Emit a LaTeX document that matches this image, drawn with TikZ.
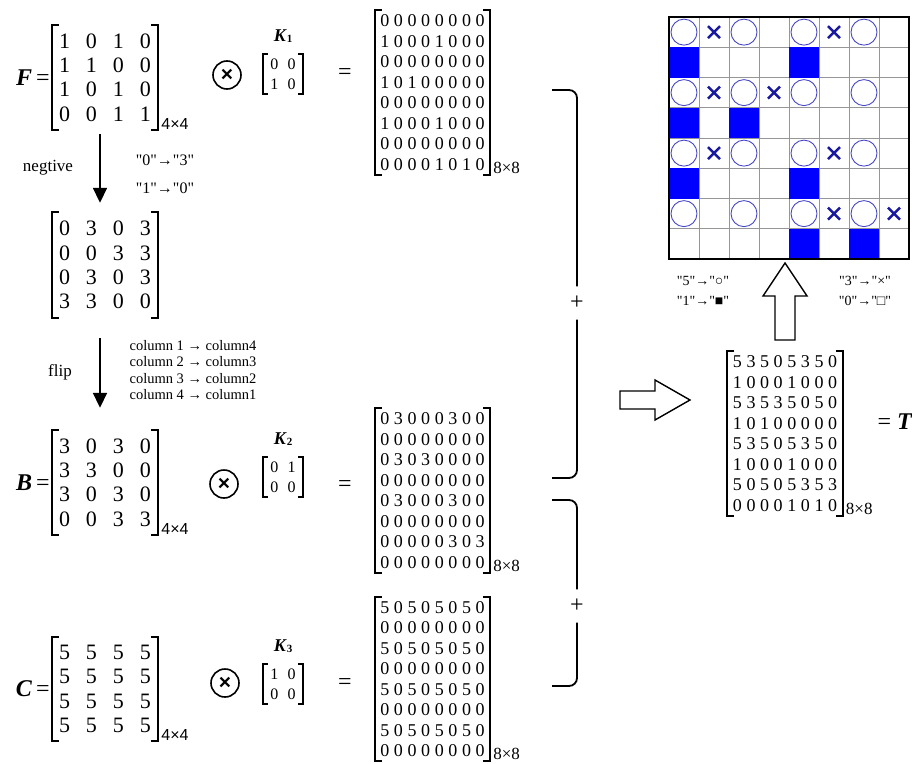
\documentclass[tikz,border=0pt]{standalone}
\usepackage{fontspec}
\setmainfont{Liberation Serif}
\newfontfamily\sansfont{Liberation Sans}
\newfontfamily\plainserif{Liberation Serif}
\usetikzlibrary{arrows.meta}
\definecolor{cellblue}{RGB}{0,0,255}
\definecolor{ringblue}{RGB}{70,70,200}
\definecolor{crossblue}{RGB}{25,25,160}
\definecolor{gridgray}{RGB}{150,150,150}
\tikzset{
  bigmat/.style={align=left, inner sep=0pt, minimum width=106pt, font={\fontsize{22}{24.4}\selectfont\spaceskip 16pt\relax}},
  kmat/.style={align=left, inner sep=0pt, minimum width=40pt, minimum height=39pt, font={\fontsize{16}{20}\selectfont\spaceskip 9.5pt\relax}},
  widemat/.style={align=left, inner sep=0pt, minimum width=115pt, minimum height=164pt, font={\fontsize{18}{20.5}\selectfont\spaceskip 4.6pt\relax}},
  brk/.style={draw=black, line width=1.7pt},
  sizelabel/.style={font=\sansfont\fontsize{16}{16}\selectfont, anchor=south west, inner sep=1pt},
  sizelabelw/.style={font=\fontsize{17}{17}\selectfont, anchor=south west, inner sep=1pt},
  lhs/.style={font=\fontsize{24}{24}\selectfont, anchor=east, inner sep=2pt},
  klabel/.style={font=\fontsize{18}{18}\selectfont, inner sep=0pt},
  otimes/.style={circle, draw=black, line width=1.6pt, minimum size=28pt, inner sep=0pt, font=\sansfont\bfseries\fontsize{21}{21}\selectfont},
  eqsign/.style={font=\fontsize{24}{24}\selectfont},
  note/.style={font=\fontsize{17}{18}\selectfont},
  rulenote/.style={font=\plainserif\fontsize{16}{18}\selectfont},
  stepnote/.style={font=\fontsize{14.5}{16.5}\selectfont, align=left},
  downarr/.style={line width=1.8pt, -{Triangle[width=14pt,length=15pt]}},
  brace/.style={line width=1.8pt, rounded corners=8pt},
  plus/.style={font=\fontsize{24}{24}\selectfont, minimum height=33pt, inner sep=0pt},
  hollow/.style={draw=black, line width=1.4pt, fill=white, line join=miter},
  gridline/.style={draw=gridgray, line width=0.8pt},
  ring/.style={draw=ringblue, line width=0.9pt},
  cross/.style={draw=crossblue, line width=2.6pt},
  legend/.style={font=\plainserif\fontsize{14}{14}\selectfont},
}
\begin{document}
\begin{tikzpicture}[x=1pt, y=-1pt]
\useasboundingbox (0,0) rectangle (912,763);
% left column: F, negative, B, C
\node[bigmat, minimum height=105pt] (F) at (105,77.5) {1 0 1 0\\1 1 0 0\\1 0 1 0\\0 0 1 1};
\node[bigmat, minimum height=106pt] (N) at (105,265) {0 3 0 3\\0 0 3 3\\0 3 0 3\\3 3 0 0};
\node[bigmat, minimum height=105pt] (B) at (105,482.5) {3 0 3 0\\3 3 0 0\\3 0 3 0\\0 0 3 3};
\node[bigmat, minimum height=104pt] (C) at (105,689) {5 5 5 5\\5 5 5 5\\5 5 5 5\\5 5 5 5};
\draw[brk] ([xshift=7pt]F.north west) -| (F.south west) -- ++(7,0) ([xshift=-7pt]F.north east) -| (F.south east) -- ++(-7,0);
\draw[brk] ([xshift=7pt]N.north west) -| (N.south west) -- ++(7,0) ([xshift=-7pt]N.north east) -| (N.south east) -- ++(-7,0);
\draw[brk] ([xshift=7pt]B.north west) -| (B.south west) -- ++(7,0) ([xshift=-7pt]B.north east) -| (B.south east) -- ++(-7,0);
\draw[brk] ([xshift=7pt]C.north west) -| (C.south west) -- ++(7,0) ([xshift=-7pt]C.north east) -| (C.south east) -- ++(-7,0);
\node[lhs] (Flhs) at (F.west) {\textbf{\textit{F}}\,=};
\node[lhs] (Blhs) at (B.west) {\textbf{\textit{B}}\,=};
\node[lhs] (Clhs) at (C.west) {\textbf{\textit{C}}\,=};
\node[sizelabel] (Fsize) at ([xshift=2pt]F.south east) {4×4};
\node[sizelabel] (Bsize) at ([xshift=2pt]B.south east) {4×4};
\node[sizelabel] (Csize) at ([xshift=2pt]C.south east) {4×4};
% steps between F, N and B
\draw[downarr, shorten <=4pt, shorten >=9pt] ([xshift=-5pt]F.south) -- ([xshift=-5pt]N.north);
\draw[downarr, shorten <=20pt, shorten >=22pt] ([xshift=-5pt]N.south) -- ([xshift=-5pt]B.north);
\node[note] (neg) at (48,168) {negtive};
\node[rulenote] (r03) at (165,160) {"0"→"3"};
\node[rulenote] (r10) at (165,188) {"1"→"0"};
\node[note] (flip) at (60,372) {flip};
\node[stepnote] (cols) at (193,370) {column 1 → column4\\column 2 → column3\\column 3 → column2\\column 4 → column1};
% kernels
\node[otimes] (o1) at (227,75) {×};
\node[otimes] (o2) at (224,484) {×};
\node[otimes] (o3) at (225,683) {×};
\node[kmat] (K1) at (283,74) {0 0\\1 0};
\node[kmat] (K2) at (283,477) {0 1\\0 0};
\node[kmat] (K3) at (283,684) {1 0\\0 0};
\draw[brk] ([xshift=5pt]K1.north west) -| (K1.south west) -- ++(5,0) ([xshift=-5pt]K1.north east) -| (K1.south east) -- ++(-5,0);
\draw[brk] ([xshift=5pt]K2.north west) -| (K2.south west) -- ++(5,0) ([xshift=-5pt]K2.north east) -| (K2.south east) -- ++(-5,0);
\draw[brk] ([xshift=5pt]K3.north west) -| (K3.south west) -- ++(5,0) ([xshift=-5pt]K3.north east) -| (K3.south east) -- ++(-5,0);
\node[klabel, above=12pt] (K1lab) at (K1.north) {\textbf{\textit{K}}\raisebox{-1pt}{\fontsize{11}{11}\selectfont\textbf{1}}};
\node[klabel, above=12pt] (K2lab) at (K2.north) {\textbf{\textit{K}}\raisebox{-1pt}{\fontsize{11}{11}\selectfont\textbf{2}}};
\node[klabel, above=12pt] (K3lab) at (K3.north) {\textbf{\textit{K}}\raisebox{-1pt}{\fontsize{11}{11}\selectfont\textbf{3}}};
\node[eqsign] (e1) at (345,74) {=};
\node[eqsign] (e2) at (345,486) {=};
\node[eqsign] (e3) at (345,684) {=};
% products 8x8
\node[widemat] (M1) at (432.5,92.5) {0 0 0 0 0 0 0 0\\1 0 0 0 1 0 0 0\\0 0 0 0 0 0 0 0\\1 0 1 0 0 0 0 0\\0 0 0 0 0 0 0 0\\1 0 0 0 1 0 0 0\\0 0 0 0 0 0 0 0\\0 0 0 0 1 0 1 0};
\node[widemat] (M2) at (432.5,490.5) {0 3 0 0 0 3 0 0\\0 0 0 0 0 0 0 0\\0 3 0 3 0 0 0 0\\0 0 0 0 0 0 0 0\\0 3 0 0 0 3 0 0\\0 0 0 0 0 0 0 0\\0 0 0 0 0 3 0 3\\0 0 0 0 0 0 0 0};
\node[widemat] (M3) at (432.5,679) {5 0 5 0 5 0 5 0\\0 0 0 0 0 0 0 0\\5 0 5 0 5 0 5 0\\0 0 0 0 0 0 0 0\\5 0 5 0 5 0 5 0\\0 0 0 0 0 0 0 0\\5 0 5 0 5 0 5 0\\0 0 0 0 0 0 0 0};
\node[widemat] (T) at (785,433.5) {5 3 5 0 5 3 5 0\\1 0 0 0 1 0 0 0\\5 3 5 3 5 0 5 0\\1 0 1 0 0 0 0 0\\5 3 5 0 5 3 5 0\\1 0 0 0 1 0 0 0\\5 0 5 0 5 3 5 3\\0 0 0 0 1 0 1 0};
\draw[brk] ([xshift=7pt]M1.north west) -| (M1.south west) -- ++(7,0) ([xshift=-7pt]M1.north east) -| (M1.south east) -- ++(-7,0);
\draw[brk] ([xshift=7pt]M2.north west) -| (M2.south west) -- ++(7,0) ([xshift=-7pt]M2.north east) -| (M2.south east) -- ++(-7,0);
\draw[brk] ([xshift=7pt]M3.north west) -| (M3.south west) -- ++(7,0) ([xshift=-7pt]M3.north east) -| (M3.south east) -- ++(-7,0);
\draw[brk] ([xshift=7pt]T.north west) -| (T.south west) -- ++(7,0) ([xshift=-7pt]T.north east) -| (T.south east) -- ++(-7,0);
\node[sizelabelw] (M1size) at ([xshift=2pt]M1.south east) {8×8};
\node[sizelabelw] (M2size) at ([xshift=2pt]M2.south east) {8×8};
\node[sizelabelw] (M3size) at ([xshift=2pt]M3.south east) {8×8};
\node[sizelabelw] (Tsize) at ([xshift=2pt]T.south east) {8×8};
\node[eqsign, anchor=west] (eT) at (874,422) {= \textbf{\textit{T}}};
% sums
\node[plus] (p1) at (577,303) {+};
\node[plus] (p2) at (577,606) {+};
\draw[brace] (p1.north) |- (552,90);
\draw[brace] (p1.south) |- (552,478);
\draw[brace] (p2.north) |- (552,500);
\draw[brace] (p2.south) |- (552,686);
% hollow arrows
\coordinate (ra) at (620,400);
\coordinate (ua) at (785,340);
\draw[hollow] (ra) ++(0,-9) -- ++(35,0) -- ++(0,-11) -- ++(35,20) -- ++(-35,20) -- ++(0,-11) -- ++(-35,0) -- cycle;
\draw[hollow] (ua) ++(-10,0) -- ++(0,-44) -- ++(-12,0) -- ++(22,-33) -- ++(22,33) -- ++(-12,0) -- ++(0,44) -- cycle;
% pattern grid
\begin{scope}[shift={(669,17)}, x=30pt, y=-30.25pt]
\draw[gridline, xstep=30pt, ystep=30.25pt] (0,8) grid (8,0);
\fill[cellblue] (0,1) rectangle (1,2);
\fill[cellblue] (4,1) rectangle (5,2);
\fill[cellblue] (0,3) rectangle (1,4);
\fill[cellblue] (2,3) rectangle (3,4);
\fill[cellblue] (0,5) rectangle (1,6);
\fill[cellblue] (4,5) rectangle (5,6);
\fill[cellblue] (4,7) rectangle (5,8);
\fill[cellblue] (6,7) rectangle (7,8);
\draw[ring] (0.5,0.5) circle (13pt) (2.5,0.5) circle (13pt) (4.5,0.5) circle (13pt) (6.5,0.5) circle (13pt);
\draw[ring] (0.5,2.5) circle (13pt) (2.5,2.5) circle (13pt) (4.5,2.5) circle (13pt) (6.5,2.5) circle (13pt);
\draw[ring] (0.5,4.5) circle (13pt) (2.5,4.5) circle (13pt) (4.5,4.5) circle (13pt) (6.5,4.5) circle (13pt);
\draw[ring] (0.5,6.5) circle (13pt) (2.5,6.5) circle (13pt) (4.5,6.5) circle (13pt) (6.5,6.5) circle (13pt);
\draw[cross] (1.5,0.5) +(-6pt,-6pt) -- +(6pt,6pt) +(-6pt,6pt) -- +(6pt,-6pt);
\draw[cross] (5.5,0.5) +(-6pt,-6pt) -- +(6pt,6pt) +(-6pt,6pt) -- +(6pt,-6pt);
\draw[cross] (1.5,2.5) +(-6pt,-6pt) -- +(6pt,6pt) +(-6pt,6pt) -- +(6pt,-6pt);
\draw[cross] (3.5,2.5) +(-6pt,-6pt) -- +(6pt,6pt) +(-6pt,6pt) -- +(6pt,-6pt);
\draw[cross] (1.5,4.5) +(-6pt,-6pt) -- +(6pt,6pt) +(-6pt,6pt) -- +(6pt,-6pt);
\draw[cross] (5.5,4.5) +(-6pt,-6pt) -- +(6pt,6pt) +(-6pt,6pt) -- +(6pt,-6pt);
\draw[cross] (5.5,6.5) +(-6pt,-6pt) -- +(6pt,6pt) +(-6pt,6pt) -- +(6pt,-6pt);
\draw[cross] (7.5,6.5) +(-6pt,-6pt) -- +(6pt,6pt) +(-6pt,6pt) -- +(6pt,-6pt);
\draw[line width=1.5pt] (0,0) rectangle (8,8);
\end{scope}
\node[legend] (l5) at (703,281) {"5"→"○"};
\node[legend] (l1) at (703,301) {"1"→"■"};
\node[legend] (l3) at (865,281) {"3"→"×"};
\node[legend] (l0) at (865,301) {"0"→"□"};
\end{tikzpicture}
\end{document}
